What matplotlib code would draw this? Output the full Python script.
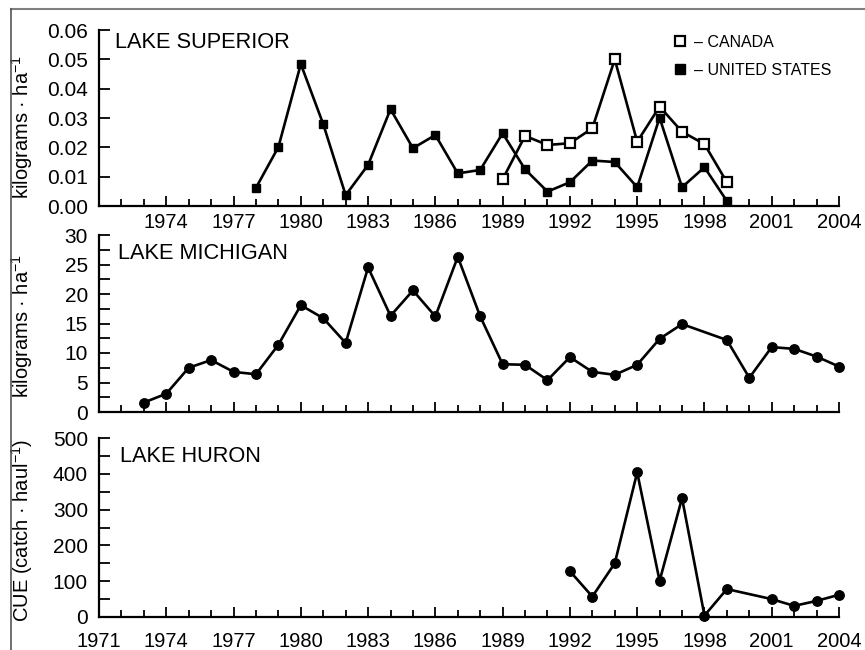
import matplotlib
matplotlib.use("Agg")
import matplotlib.pyplot as plt
import numpy as np
from matplotlib.lines import Line2D
from matplotlib.ticker import FormatStrFormatter, MultipleLocator

plt.rcParams['font.family'] = ['Liberation Sans', 'DejaVu Sans']
plt.rcParams['mathtext.fontset'] = 'custom'
plt.rcParams['mathtext.rm'] = 'Liberation Sans'

# Lake Superior (kg/ha)
sup_us_years = list(range(1978, 2000))
sup_us = [0.0062, 0.0201, 0.0484, 0.0279, 0.0037, 0.0140, 0.0330, 0.0197,
          0.0242, 0.0111, 0.0123, 0.0248, 0.0125, 0.0049, 0.0081, 0.0155,
          0.0150, 0.0064, 0.0301, 0.0064, 0.0132, 0.0017]
sup_ca_years = list(range(1989, 2000))
sup_ca = [0.0091, 0.0239, 0.0208, 0.0214, 0.0265, 0.0500, 0.0219, 0.0339,
          0.0253, 0.0211, 0.0081]

# Lake Michigan (kg/ha), no 1998 value
mich_years = list(range(1973, 1998)) + list(range(1999, 2005))
mich = [1.6, 3.1, 7.5, 8.8, 6.8, 6.4, 11.4, 18.1, 15.9, 11.7, 24.5, 16.3,
        20.6, 16.2, 26.3, 16.2, 8.1, 8.0, 5.4, 9.3, 6.8, 6.3, 8.0, 12.4,
        14.9, 12.2, 5.8, 11.0, 10.7, 9.4, 7.7]

# Lake Huron CUE (catch/haul), no 2000 value
huron_years = [1992, 1993, 1994, 1995, 1996, 1997, 1998, 1999, 2001, 2002, 2003, 2004]
huron = [128, 57, 150, 404, 101, 332, 4, 78, 50, 31, 45, 62]

all_years = np.arange(1971, 2005)
label_years = np.arange(1971, 2005, 3)

fig = plt.figure(figsize=(8.65, 6.5), dpi=100)
W, H = 865.0, 650.0
ax1 = fig.add_axes([99 / W, 444 / H, 740 / W, 176 / H])
ax2 = fig.add_axes([99 / W, 238 / H, 740 / W, 177 / H])
ax3 = fig.add_axes([99 / W, 33 / H, 740 / W, 179 / H])


def style(ax, xpad):
    for s in ['top', 'right']:
        ax.spines[s].set_visible(False)
    for s in ['left', 'bottom']:
        ax.spines[s].set_linewidth(1.6)
    ax.set_xlim(1971, 2004)
    ax.set_xticks(all_years, minor=True)
    ax.tick_params(axis='x', which='major', direction='in', length=7.5, width=1.3,
                   labelsize=14.5, pad=xpad)
    ax.tick_params(axis='x', which='minor', direction='in', length=5, width=1.3)
    ax.tick_params(axis='y', which='both', direction='in', length=8, width=1.3,
                   labelsize=15, pad=8)


lw = 1.9
# top: Lake Superior
ax1.plot(sup_us_years, sup_us, color='black', lw=lw, marker='s', ms=6.2,
         mfc='black', mec='black', clip_on=False, zorder=3)
ax1.plot(sup_ca_years, sup_ca, color='black', lw=lw, marker='s', ms=6.5,
         mfc='white', mec='black', mew=1.6, clip_on=False, zorder=4)
style(ax1, 5)
ax1.set_xticks(label_years[1:])
ax1.set_ylim(0, 0.06)
ax1.set_yticks(np.arange(0, 0.061, 0.01))
ax1.yaxis.set_major_formatter(FormatStrFormatter('%.2f'))
ax1.set_ylabel(r'kilograms · ha$^{\mathregular{-1}}$', fontsize=14.5)
ax1.yaxis.set_label_coords(-0.087, 0.45)
ax1.text(0.022, 0.896, 'LAKE SUPERIOR', transform=ax1.transAxes, fontsize=15.7,
         va='baseline', ha='left')
handles = [Line2D([], [], ls='none', marker='s', ms=6.5, mfc='white', mec='black', mew=1.6),
           Line2D([], [], ls='none', marker='s', ms=6.5, mfc='black', mec='black')]
ax1.legend(handles, ['– CANADA', '– UNITED STATES'], loc='upper left',
           bbox_to_anchor=(0.7765, 0.972), frameon=False, fontsize=11.5,
           handlelength=0.8, handletextpad=0.45, borderpad=0, borderaxespad=0,
           labelspacing=0.8)

# middle: Lake Michigan
ax2.plot(mich_years, mich, color='black', lw=lw, marker='o', ms=6.8,
         mfc='black', mec='black', clip_on=False, zorder=3)
style(ax2, 5)
ax2.set_xticks(label_years)
ax2.tick_params(axis='x', which='major', labelbottom=False)
ax2.set_ylim(0, 30)
ax2.yaxis.set_major_locator(MultipleLocator(5))
ax2.yaxis.set_minor_locator(MultipleLocator(2.5))
ax2.set_ylabel(r'kilograms · ha$^{\mathregular{-1}}$', fontsize=14.5)
ax2.yaxis.set_label_coords(-0.087, 0.486)
ax2.text(0.026, 0.863, 'LAKE MICHIGAN', transform=ax2.transAxes, fontsize=15.7,
         va='baseline', ha='left')

# bottom: Lake Huron
ax3.plot(huron_years, huron, color='black', lw=lw, marker='o', ms=6.8,
         mfc='black', mec='black', clip_on=False, zorder=3)
style(ax3, 11)
ax3.set_xticks(label_years)
ax3.set_ylim(0, 500)
ax3.yaxis.set_major_locator(MultipleLocator(100))
ax3.yaxis.set_minor_locator(MultipleLocator(50))
ax3.set_ylabel(r'CUE (catch · haul$^{\mathregular{-1}}$)', fontsize=14.5)
ax3.yaxis.set_label_coords(-0.087, 0.486)
ax3.text(0.028, 0.868, 'LAKE HURON', transform=ax3.transAxes, fontsize=15.7,
         va='baseline', ha='left')

# frame lines around the figure (top and left)
fig.add_artist(Line2D([11 / W, 1], [1 - 9 / H, 1 - 9 / H], color='#808080', lw=1.5))
fig.add_artist(Line2D([11 / W, 11 / W], [0, 1 - 9 / H], color='#555555', lw=1.2))

fig.savefig('out.png', dpi=100, facecolor='white')
